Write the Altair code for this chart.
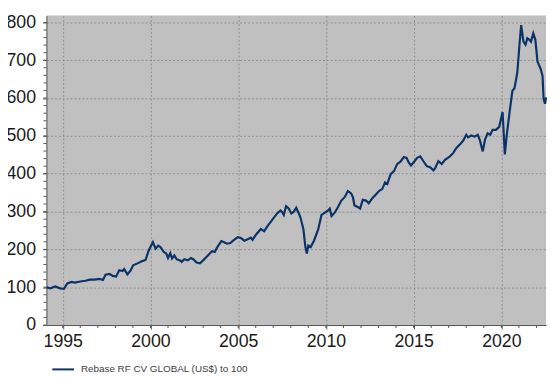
import altair as alt
import pandas as pd

# Decimal year of each observation and rebased index value
years = [
    1994.07, 1994.3, 1994.57, 1994.85, 1995.07, 1995.26, 1995.5, 1995.7, 1996.0, 1996.3,
    1996.54, 1996.82, 1997.1, 1997.29, 1997.44, 1997.67, 1997.85, 1998.04, 1998.22, 1998.41,
    1998.5, 1998.69, 1998.88, 1999.01, 1999.26, 1999.53, 1999.72, 1999.9, 2000.14, 2000.29,
    2000.44, 2000.57, 2000.76, 2000.9, 2001.0, 2001.13, 2001.23, 2001.36, 2001.5, 2001.69,
    2001.78, 2001.93, 2002.12, 2002.31, 2002.44, 2002.63, 2002.82, 2003.0, 2003.19, 2003.38,
    2003.51, 2003.66, 2003.81, 2004.04, 2004.2, 2004.36, 2004.55, 2004.78, 2004.97, 2005.16,
    2005.35, 2005.6, 2005.72, 2005.82, 2006.0, 2006.29, 2006.48, 2006.66, 2006.94, 2007.22,
    2007.41, 2007.5, 2007.6, 2007.73, 2007.88, 2008.03, 2008.16, 2008.31, 2008.54, 2008.72,
    2008.82, 2008.91, 2009.0, 2009.13, 2009.32, 2009.56, 2009.75, 2009.94, 2010.13, 2010.22,
    2010.32, 2010.5, 2010.69, 2010.88, 2011.07, 2011.25, 2011.44, 2011.54, 2011.63, 2011.82,
    2011.95, 2012.1, 2012.29, 2012.44, 2012.66, 2012.85, 2013.04, 2013.22, 2013.37, 2013.5,
    2013.69, 2013.88, 2014.07, 2014.25, 2014.44, 2014.6, 2014.72, 2014.85, 2015.05, 2015.2,
    2015.38, 2015.56, 2015.75, 2015.94, 2016.13, 2016.22, 2016.41, 2016.6, 2016.79, 2017.07,
    2017.26, 2017.44, 2017.63, 2017.82, 2018.0, 2018.1, 2018.29, 2018.47, 2018.66, 2018.78,
    2018.94, 2019.07, 2019.22, 2019.37, 2019.5, 2019.69, 2019.88, 2020.07, 2020.2, 2020.31,
    2020.47, 2020.63, 2020.75, 2020.91, 2021.04, 2021.13, 2021.26, 2021.38, 2021.48, 2021.6,
    2021.69, 2021.82, 2021.94, 2022.06, 2022.25, 2022.35, 2022.41, 2022.49, 2022.55,
]
values = [
    100, 97, 102, 97, 96, 110, 114, 112, 115, 117,
    120, 120, 122, 119, 133, 135, 130, 128, 145, 143,
    148, 134, 145, 158, 163, 169, 172, 197, 219, 202,
    210, 206, 193, 189, 177, 190, 176, 184, 174, 171,
    167, 174, 171, 177, 174, 165, 163, 171, 180, 189,
    195, 193, 206, 222, 219, 215, 217, 226, 232, 230,
    223, 228, 231, 225, 238, 254, 248, 261, 278, 295,
    303, 299, 291, 314, 308, 295, 299, 310, 286, 253,
    210, 189, 210, 206, 223, 253, 291, 297, 303, 308,
    288, 297, 312, 329, 338, 354, 348, 338, 316, 312,
    308, 331, 329, 322, 336, 345, 355, 360, 377, 373,
    399, 407, 426, 432, 444, 442, 430, 422, 433, 442,
    446, 433, 420, 417, 409, 414, 433, 426, 437, 446,
    455, 468, 477, 487, 503, 496, 501, 498, 503, 488,
    459, 490, 507, 503, 516, 516, 524, 563, 451, 503,
    563, 619, 626, 667, 745, 793, 749, 741, 758, 754,
    749, 771, 754, 697, 676, 658, 598, 585, 602,
]
series_name = "Rebase RF CV GLOBAL (US$) to 100"
x_major = [1995, 2000, 2005, 2010, 2015, 2020]
x_minor = list(range(1995, 2023))
y_major = list(range(0, 801, 100))
y_minor = list(range(0, 801, 20))

W, H = 507, 314
df = pd.DataFrame({"t": years, "v": values, "series": series_name})
dfx = pd.DataFrame({"t": x_minor})
dfy = pd.DataFrame({"v": y_minor})

FONT = "Liberation Sans"
xscale = alt.Scale(domain=[1994.07, 2022.55], nice=False, zero=False)
yscale = alt.Scale(domain=[0, 818], nice=False)

xaxis = alt.Axis(
    orient="bottom", values=x_major, format="d", title=None,
    grid=True, gridColor="#8f8f8f", gridDash=[2, 2], gridWidth=1,
    domainColor="#555555", tickColor="#555555", tickSize=4,
    labelFont=FONT, labelFontSize=18, labelColor="#1a1a1a", labelPadding=4,
    labelFlush=False)
yaxis = alt.Axis(
    orient="left", values=y_major, format="d", title=None,
    grid=True, gridColor="#8f8f8f", gridDash=[2, 2], gridWidth=1,
    domainColor="#555555", tickColor="#555555", tickSize=4,
    labelFont=FONT, labelFontSize=18, labelColor="#1a1a1a", labelPadding=7)

xminor = alt.Chart(dfx).mark_rule(color="#555555", strokeWidth=1).encode(
    x=alt.X("t:Q", scale=xscale, axis=xaxis),
    y=alt.value(H), y2=alt.value(H + 3),
)
yminor = alt.Chart(dfy).mark_rule(color="#555555", strokeWidth=1).encode(
    y=alt.Y("v:Q", scale=yscale, axis=yaxis),
    x=alt.value(-3), x2=alt.value(0),
)

line = alt.Chart(df).mark_line(strokeWidth=2.2).encode(
    x=alt.X("t:Q", scale=xscale, axis=xaxis),
    y=alt.Y("v:Q", scale=yscale, axis=yaxis),
    color=alt.Color("series:N", scale=alt.Scale(domain=[series_name], range=["#0b3368"]),
                    legend=alt.Legend(
                        orient="none", legendX=5, legendY=347, title=None,
                        symbolType="stroke", symbolSize=484, symbolStrokeWidth=2,
                        labelFont=FONT, labelFontSize=10, labelColor="#404040",
                        labelOffset=6, labelLimit=0)),
)

chart = alt.layer(line, xminor, yminor).properties(
    width=W,
    height=H,
    autosize=alt.AutoSizeParams(type="none"),
    padding={"left": 39, "top": 5, "right": 5, "bottom": 50},
    background="white",
).configure_view(fill="#c0c0c0", stroke=None)

chart.save("out.html", embed_options={"renderer": "svg", "actions": False})
